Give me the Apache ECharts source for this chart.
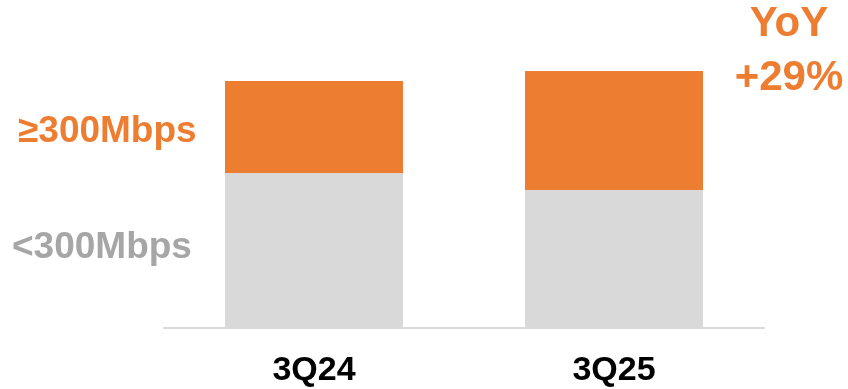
<!DOCTYPE html>
<html>
<head>
<meta charset="utf-8">
<script src="https://cdn.jsdelivr.net/npm/echarts@6/dist/echarts.min.js"></script>
<style>
  html, body { margin: 0; padding: 0; background: #fff; }
  #chart { width: 848px; height: 389px; }
</style>
</head>
<body>
<div id="chart"></div>
<script>
// Broadband subscriber mix by speed tier (relative units)
const quarters = ['3Q24', '3Q25'];
const below300 = [155, 138];
const atLeast300 = [92, 119];
const yoyLabel = ['YoY', '+29%'];

const ORANGE = '#ED7D31';
const LIGHT_GREY = '#D9D9D9';
const TEXT_GREY = '#A6A6A6';
const FONT = 'Liberation Sans, Arial, sans-serif';

const chart = echarts.init(document.getElementById('chart'));
chart.setOption({
  animation: false,
  grid: { left: 164, width: 600, top: 71, bottom: 61 },
  xAxis: {
    type: 'category',
    data: quarters,
    axisLine: { show: true, lineStyle: { color: LIGHT_GREY, width: 2 } },
    axisTick: { show: false },
    axisLabel: {
      color: '#000',
      fontFamily: FONT,
      fontWeight: 'bold',
      fontSize: 34,
      margin: 26
    }
  },
  yAxis: {
    type: 'value',
    min: 0,
    max: 257,
    show: false,
    splitLine: { show: false }
  },
  series: [
    {
      name: '<300Mbps',
      type: 'bar',
      stack: 'total',
      barWidth: 178,
      itemStyle: { color: LIGHT_GREY },
      data: below300
    },
    {
      name: '≥300Mbps',
      type: 'bar',
      stack: 'total',
      barWidth: 178,
      itemStyle: { color: ORANGE },
      data: atLeast300
    }
  ],
  graphic: [
    {
      type: 'text',
      left: 18,
      top: 113,
      style: {
        text: '≥300Mbps',
        fill: ORANGE,
        font: 'bold 37px ' + FONT
      }
    },
    {
      type: 'text',
      left: 12,
      top: 229,
      style: {
        text: '<300Mbps',
        fill: TEXT_GREY,
        font: 'bold 37px ' + FONT
      }
    },
    {
      type: 'text',
      x: 789,
      y: -3,
      style: {
        text: yoyLabel.join('\n'),
        fill: ORANGE,
        font: 'bold 42px ' + FONT,
        align: 'center',
        verticalAlign: 'top',
        lineHeight: 54
      }
    }
  ]
});
</script>
</body>
</html>
